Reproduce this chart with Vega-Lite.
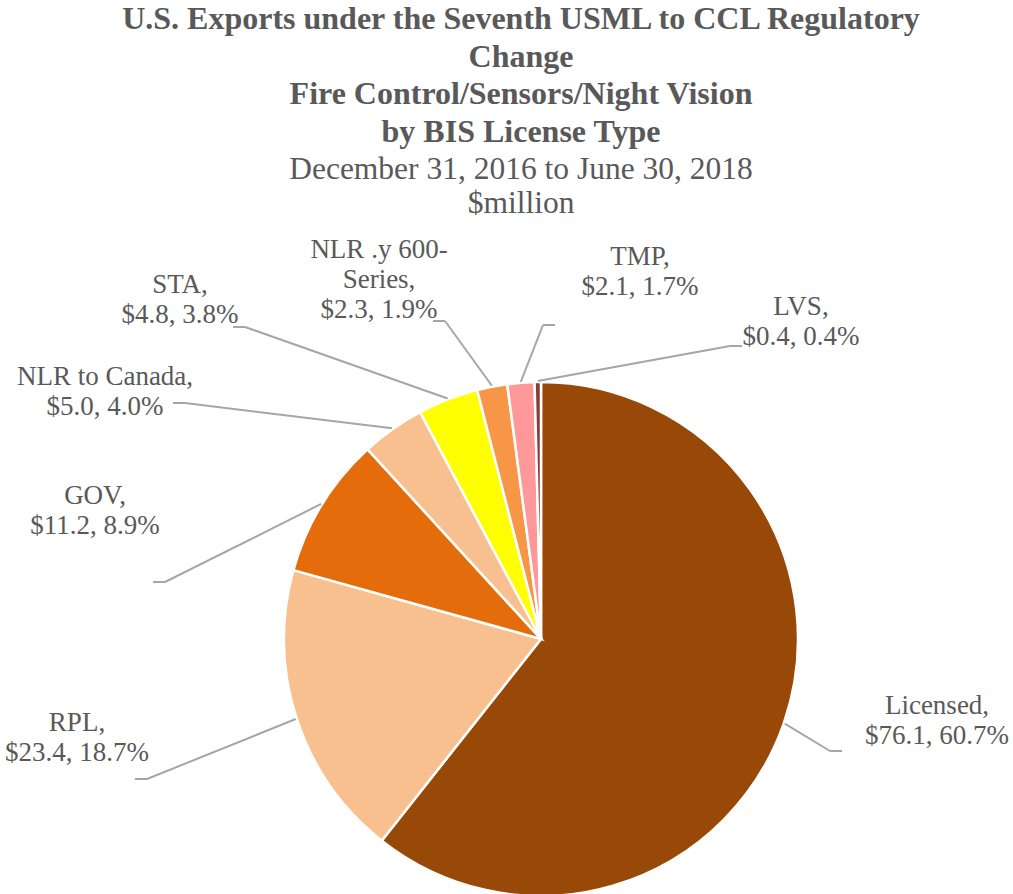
{
  "$schema": "https://vega.github.io/schema/vega-lite/v6.json",
  "width": 944,
  "height": 510,
  "autosize": {"type": "none"},
  "padding": {"left": 69, "top": 384, "right": 0, "bottom": 0},
  "background": "white",
  "config": {"view": {"stroke": null}},
  "title": {
    "text": ["U.S. Exports under the Seventh USML to CCL Regulatory", "Change", "Fire Control/Sensors/Night Vision", "by BIS License Type"],
    "subtitle": ["December 31, 2016 to June 30, 2018", "$million"],
    "anchor": "middle",
    "font": "Liberation Serif",
    "fontSize": 32,
    "fontWeight": "bold",
    "color": "#595959",
    "lineHeight": 37.5,
    "subtitleFont": "Liberation Serif",
    "subtitleFontSize": 31.5,
    "subtitleFontWeight": "normal",
    "subtitleColor": "#595959",
    "subtitleLineHeight": 34,
    "subtitlePadding": 5,
    "offset": 16,
    "dx": -20
  },
  "data": {
    "values": [
      {"name": "Licensed", "value": 76.1, "pct": 60.7},
      {"name": "RPL", "value": 23.4, "pct": 18.7},
      {"name": "GOV", "value": 11.2, "pct": 8.9},
      {"name": "NLR to Canada", "value": 5.0, "pct": 4.0},
      {"name": "STA", "value": 4.8, "pct": 3.8},
      {"name": "NLR .y 600-Series", "value": 2.3, "pct": 1.9},
      {"name": "TMP", "value": 2.1, "pct": 1.7},
      {"name": "LVS", "value": 0.4, "pct": 0.4}
    ]
  },
  "transform": [
    {"window": [{"op": "row_number", "as": "rank"}]},
    {"joinaggregate": [{"op": "sum", "field": "pct", "as": "total"}]},
    {"window": [{"op": "sum", "field": "pct", "as": "cum"}], "sort": [{"field": "rank"}], "frame": [null, 0]},
    {"calculate": "2*PI*(datum.cum - datum.pct/2)/datum.total", "as": "mid"},
    {"calculate": "258*sin(datum.mid)", "as": "sx"},
    {"calculate": "258*cos(datum.mid)", "as": "sy"},
    {"calculate": "[396,-464,-446,-436,-361,-162,99,260][datum.rank-1]", "as": "lx"},
    {"calculate": "[-67,-84,143,262,354,389,382,332][datum.rank-1]", "as": "ly"},
    {"calculate": "[289,-394,-376,-356,-296,-96,2,189][datum.rank-1]", "as": "bx"},
    {"calculate": "[-112,-140,57,236,312,318,314,293][datum.rank-1]", "as": "by"},
    {"calculate": "datum.bx + (datum.lx < datum.bx ? -12 : 12)", "as": "tx"},
    {"calculate": "replace(datum.name, '600-', '600-|') + ',|$' + format(datum.value, '.1f') + ', ' + format(datum.pct, '.1f') + '%'", "as": "label"}
  ],
  "layer": [
    {
      "mark": {"type": "arc", "outerRadius": 257, "stroke": "white", "strokeWidth": 2.5},
      "encoding": {
        "theta": {"field": "pct", "type": "quantitative", "stack": true},
        "order": {"field": "rank", "type": "quantitative"},
        "color": {
          "field": "name",
          "type": "nominal",
          "legend": null,
          "scale": {
            "domain": ["Licensed", "RPL", "GOV", "NLR to Canada", "STA", "NLR .y 600-Series", "TMP", "LVS"],
            "range": ["#984807", "#F9C08F", "#E46C0A", "#F9C08F", "#FFFF00", "#F79646", "#FF9999", "#8B3A3A"]
          }
        }
      }
    },
    {
      "mark": {"type": "rule", "color": "#A6A6A6", "strokeWidth": 2},
      "encoding": {
        "x": {"field": "sx", "type": "quantitative", "scale": {"domain": [-472, 472], "nice": false, "zero": false}, "axis": null},
        "y": {"field": "sy", "type": "quantitative", "scale": {"domain": [-255, 255], "nice": false, "zero": false}, "axis": null},
        "x2": {"field": "bx"},
        "y2": {"field": "by"}
      }
    },
    {
      "mark": {"type": "rule", "color": "#A6A6A6", "strokeWidth": 2},
      "encoding": {
        "x": {"field": "bx", "type": "quantitative"},
        "y": {"field": "by", "type": "quantitative"},
        "x2": {"field": "tx"},
        "y2": {"field": "by"}
      }
    },
    {
      "mark": {"type": "text", "font": "Liberation Serif", "fontSize": 27, "color": "#595959", "align": "center", "baseline": "middle", "lineHeight": 30, "lineBreak": "|"},
      "encoding": {
        "x": {"field": "lx", "type": "quantitative"},
        "y": {"field": "ly", "type": "quantitative"},
        "text": {"field": "label", "type": "nominal"}
      }
    }
  ]
}
